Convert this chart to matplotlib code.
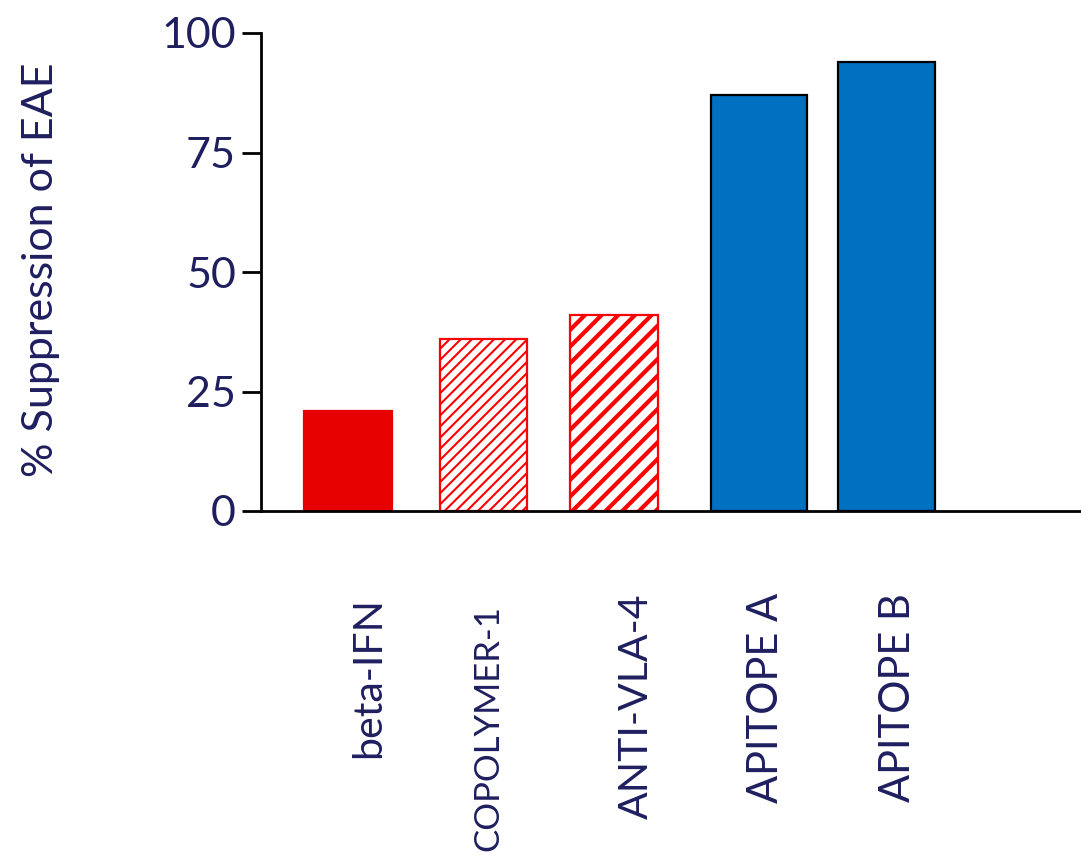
import matplotlib
matplotlib.use("Agg")
import matplotlib.pyplot as plt

# data
categories = ["beta-IFN", "COPOLYMER-1", "ANTI-VLA-4", "APITOPE A", "APITOPE B"]
suppression = [21, 36, 41, 87, 94]
y_ticks = [0, 25, 50, 75, 100]

# layout (pixel-like units along the x axis)
bar_x = [87, 222.5, 353, 498, 625.5]
bar_w = [88, 87, 88, 96, 97]
label_x = [108, 227, 375, 505, 637]
label_top = [-0.18, -0.197, -0.172, -0.172, -0.172]
label_size = [29.5, 25, 29.5, 30, 30]
face = ["#E60000", "white", "white", "#0070C0", "#0070C0"]
edge = ["#E60000", "#FF0000", "#FF0000", "black", "black"]
hatch = [None, "///", "//", None, None]
hatch_lw = [1, 1.5, 3.0, 1, 1]

navy = "#1F1F60"
plt.rcParams["font.family"] = ["Lato", "DejaVu Sans"]

fig = plt.figure(figsize=(10.81, 8.56), dpi=100)
ax = fig.add_axes([261 / 1081, 345 / 856, 819 / 1081, 478 / 856])

for i in range(len(categories)):
    with plt.rc_context({"hatch.linewidth": hatch_lw[i]}):
        bars = ax.bar(bar_x[i], suppression[i], width=bar_w[i], color=face[i],
                      edgecolor=edge[i], hatch=hatch[i], linewidth=1.6)
    for b in bars:
        if hasattr(b, "set_hatch_linewidth"):
            b.set_hatch_linewidth(hatch_lw[i])

ax.set_xlim(0, 819)
ax.set_ylim(0, 100)
ax.set_yticks(y_ticks)
ax.set_xticks([])
ax.tick_params(axis="y", direction="out", length=14, width=2,
               labelsize=31, labelcolor=navy, pad=4)
for s in ["top", "right"]:
    ax.spines[s].set_visible(False)
for s in ["left", "bottom"]:
    ax.spines[s].set_linewidth(2)

# category names sit below the axis, not exactly under each bar
for i, lab in enumerate(categories):
    ax.text(label_x[i], label_top[i], lab, rotation=90, ha="center", va="top",
            fontsize=label_size[i], color=navy, clip_on=False,
            transform=ax.get_xaxis_transform())

fig.text(41 / 1081, 1 - 270 / 856, "% Suppression of EAE", rotation=90,
         ha="center", va="center", fontsize=31, color=navy)

fig.savefig("out.png", dpi=100)
